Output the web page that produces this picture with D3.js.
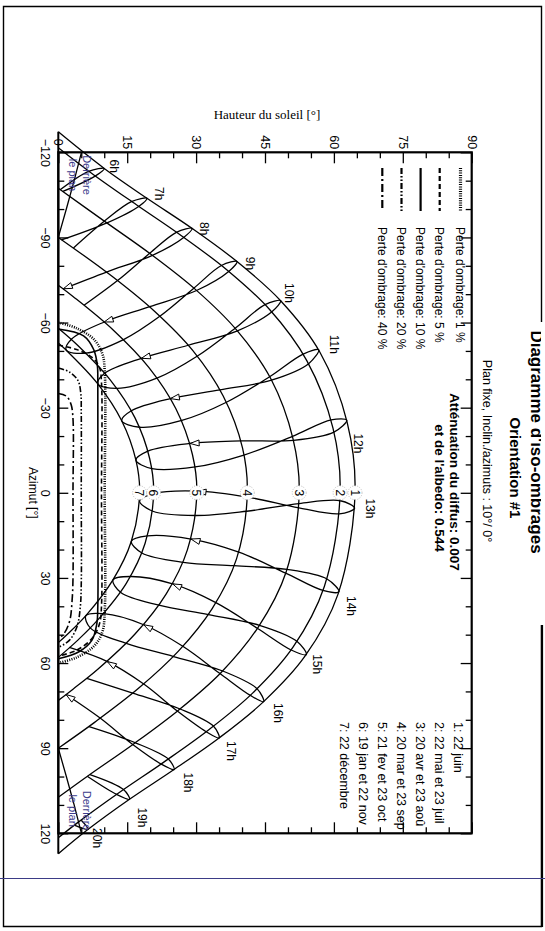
<!DOCTYPE html>
<html><head><meta charset="utf-8">
<script src="https://cdn.jsdelivr.net/npm/d3@7"></script>
<style>
body{margin:0;background:#fff}
svg{display:block}
text{font-family:Arial,"Liberation Sans",sans-serif;fill:#000}
</style>
</head><body>
<svg id="c" width="545" height="931"></svg>
<script>
// ---------- DATA (azimuth [deg], sun height [deg]) ----------
const hours = ["6h","7h","8h","9h","10h","11h","12h","13h","14h","15h","16h","17h","18h","19h","20h"];
const hourLabelPos = [[-115.1,12.3],[-105.4,22.1],[-93.1,31.9],[-80.8,41.8],[-70.4,50.4],[-52.3,60.0],[-17.4,65.3],[5.5,67.9],[39.9,63.7],[60.4,56.5],[77.6,47.8],[91.0,37.6],[102.1,28.2],[114.4,18.3],[121.7,8.4]];

const dateLabels = ["1","2","3","4","5","6","7"];
const dateNoonHeight = [64.6,61.35,52.45,41.15,30.15,20.75,17.7];
const dateLegend = ["1: 22 juin","2: 22 mai et 23 juil","3: 20 avr et 23 aoû","4: 20 mar et 23 sep","5: 21 fev et 23 oct","6: 19 jan et 22 nov","7: 22 décembre"];

// sun paths (date curves), sunrise -> sunset
const path1 = [[-127.2,0],[-114.3,10.0],[-103.8,19.3],[-93.2,29.1],[-81.5,38.9],[-67.7,48.4],[-49.7,56.9],[-24.7,62.9],[0,64.6],[35.7,60.9],[57.6,53.7],[73.6,44.7],[86.4,35.0],[97.5,25.2],[108.0,15.5],[118.6,6.5],[127.2,0]];
const path2 = [[-121.6,0],[-112.2,7.6],[-101.5,17.0],[-90.6,26.8],[-78.7,36.6],[-64.6,46.0],[-46.6,54.1],[-22.8,59.8],[0,61.35],[33.1,57.9],[54.4,51.1],[70.6,42.3],[83.6,32.7],[95.0,22.9],[105.7,13.2],[116.5,4.0],[121.6,0]];
const path3 = [[-107.3,0],[-95.3,10.4],[-83.9,20.3],[-71.6,29.9],[-57.4,38.8],[-40.1,46.3],[-19.0,51.1],[0,52.45],[27.9,49.6],[47.4,43.5],[63.4,35.4],[76.7,26.1],[88.5,16.4],[99.7,6.5],[107.3,0]];
const path4 = [[-90,0],[-76.3,11.7],[-63.9,21.0],[-50.1,29.3],[-34.1,35.9],[-15.8,40.1],[0,41.15],[23.3,38.8],[40.8,33.5],[55.9,26.1],[69.0,17.4],[80.9,7.9],[90,0]];
const path5 = [[-73.15,0],[-69.2,3.2],[-57.3,12.0],[-44.2,19.7],[-29.6,25.6],[-13.5,29.2],[0,30.15],[20.1,28.1],[35.6,23.5],[49.6,16.8],[62.2,8.6],[69.2,3.2],[73.15,0]];
const path6 = [[-58.0,0],[-52.0,4.2],[-39.8,11.3],[-26.4,16.7],[-12.0,19.9],[0,20.75],[17.8,18.9],[31.9,14.8],[44.8,8.6],[52.0,4.2],[58.0,0]];
const path7 = [[-52.8,0],[-50.3,1.7],[-38.4,8.6],[-25.4,13.8],[-11.5,16.9],[0,17.7],[17.1,15.9],[30.7,11.9],[43.3,6.0],[50.3,1.7],[52.8,0]];

// sun position at each legal hour (6h..20h) for the 12 dates of the analemma loops
const aJun = [[-114.3,10.0],[-103.8,19.3],[-93.2,29.1],[-81.5,38.9],[-67.7,48.4],[-50.4,56.7],[-25.6,62.8],[5.4,64.5],[34.9,61.1],[57.0,54.0],[73.6,44.7],[86.4,35.0],[97.5,25.2],[108.0,15.5],[118.6,6.5]];
const aMay = [[-111.7,8.1],[-100.9,17.5],[-90.0,27.3],[-78.0,37.1],[-63.8,46.5],[-45.5,54.5],[-21.4,60.0],[7.4,61.2],[34.4,57.6],[55.4,50.7],[71.4,41.8],[84.2,32.2],[95.6,22.4],[106.3,12.7],[117.1,3.5]];
const aApr = [[-106.2,1.0],[-95.1,10.6],[-83.7,20.5],[-71.3,30.1],[-57.1,39.0],[-39.7,46.4],[-18.5,51.2],[5.3,52.4],[28.3,49.5],[47.8,43.4],[63.7,35.2],[76.9,25.9],[88.7,16.2],[99.9,6.3],null];
const aMar = [null,[-89.1,0.7],[-77.8,10.5],[-65.6,19.9],[-52.0,28.3],[-36.3,35.2],[-18.3,39.8],[1.5,41.2],[20.9,39.3],[38.7,34.3],[54.1,27.1],[67.4,18.6],[79.4,9.1],null,null];
const aFeb = [null,null,[-71.9,1.1],[-60.2,10.0],[-47.4,18.1],[-33.2,24.4],[-17.4,28.7],[-0.6,30.2],[16.3,28.9],[32.1,24.9],[46.5,18.6],[59.5,10.7],[71.1,1.7],null,null];
const aJan = [null,null,null,[-54.2,2.9],[-42.1,10.1],[-28.9,15.9],[-14.7,19.5],[0.3,20.8],[15.2,19.4],[29.5,15.7],[42.6,9.9],[54.5,2.4],null,null,null];
const aDec = [null,null,null,[-50.3,1.7],[-38.4,8.6],[-25.4,13.8],[-11.5,16.9],[2.9,17.7],[17.1,15.9],[30.7,11.9],[43.3,6.0],null,null,null,null];
const aNov = [null,null,null,[-49.2,5.9],[-36.8,12.8],[-23.1,17.7],[-8.5,20.4],[6.5,20.6],[21.2,18.2],[35.1,13.6],[47.7,7.0],null,null,null,null];
const aOct = [null,null,[-66.1,5.6],[-54.0,14.2],[-40.5,21.6],[-25.5,26.9],[-9.1,29.8],[8.0,29.9],[24.5,27.2],[39.6,21.9],[53.1,14.8],[65.4,6.2],null,null,null];
const aSep = [null,[-86.3,3.3],[-74.8,12.9],[-62.2,22.1],[-48.2,30.3],[-31.9,36.6],[-13.3,40.4],[6.5,41.0],[25.7,38.3],[42.9,32.7],[57.7,25.1],[70.6,16.2],[82.4,6.7],null,null];
const aAug = [[-106.8,0.4],[-95.7,10.0],[-84.4,19.9],[-72.1,29.5],[-58.0,38.5],[-40.9,46.0],[-19.9,51.0],[3.8,52.4],[27.0,49.8],[46.7,43.8],[62.8,35.8],[76.2,26.5],[88.1,16.8],[99.3,6.9],null];
const aJul = [[-113.3,6.6],[-102.6,15.9],[-91.8,25.7],[-80.1,35.5],[-66.3,45.0],[-48.9,53.3],[-25.7,59.4],[2.8,61.4],[30.4,58.5],[52.4,52.0],[69.1,43.3],[82.3,33.8],[93.9,24.0],[104.6,14.2],[115.4,5.0]];

// "behind the plane" limits
const behindLeft = [[-90,0],[-100,1.75],[-110,3.45],[-120,5.04]];
const behindRight = [[90,0],[100,1.75],[110,3.45],[120,5.04]];

// iso-shading curves
const isoNames = ["Perte d'ombrage: 1 %","Perte d'ombrage: 5 %","Perte d'ombrage: 10 %","Perte d'ombrage: 20 %","Perte d'ombrage: 40 %"];
const iso1 = [[-60,0],[-58,4],[-54,7.8],[-49,9.6],[-43,10.1],[0,10.1],[42,10.1],[49,9.6],[54,7.8],[58,4],[60,0]];
const iso5 = [[-52,0],[-50.5,4],[-47.5,7.5],[-44,9.0],[-39,9.4],[0,9.4],[40,9.4],[46,9.0],[51,7.5],[55.5,4],[57.5,0]];
const iso10 = [[-57.7,0],[-55.3,5.5],[-50.5,7.7],[-45,8.5],[-40,8.6],[0,8.6],[40,8.6],[46,8.4],[52,7.3],[56,4.5],[58.5,0]];
const iso20 = [[-44,0],[-42.5,2.5],[-39.5,4.3],[-35,4.9],[-28,5.0],[0,5.0],[32,5.0],[40,4.8],[47,4.1],[52,2.4],[54.5,0]];
const iso40 = [[-35,0],[-34,1.8],[-31,2.8],[-26,3.2],[0,3.2],[30,3.2],[38,3.0],[45,2.5],[49.5,1.3],[51.5,0]];

const heightTicks = [0,15,30,45,60,75,90];
const azimuthTicks = [-120,-90,-60,-30,0,30,60,90,120];

// ---------- DRAW ----------
const svg = d3.select("#c");
const xS = d3.scaleLinear().domain([0,90]).range([58.3,471.7]);   // sun height -> horizontal
const yS = d3.scaleLinear().domain([-120,120]).range([152.3,833.3]); // azimuth -> vertical

// page frame (right edge interrupted by the cut title)
const pf = svg.append("g").attr("stroke","#000").attr("fill","none");
pf.append("path").attr("d","M541.5,322 V6.5 H3.5 V926.5 H541.5 V625").attr("stroke-width",1.4);
pf.append("line").attr("x1",542).attr("x2",542).attr("y1",625).attr("y2",927).attr("stroke-width",2.2);
svg.append("line").attr("x1",0).attr("x2",545).attr("y1",878.5).attr("y2",878.5)
  .attr("stroke","#3b3b86").attr("stroke-width",1);

const ln = d3.line().x(d=>xS(d[1])).y(d=>yS(d[0])).curve(d3.curveCatmullRom.alpha(0.5));
const lnClosed = d3.line().x(d=>xS(d[1])).y(d=>yS(d[0])).curve(d3.curveCatmullRomClosed.alpha(0.5));
const lnLin = d3.line().x(d=>xS(d[1])).y(d=>yS(d[0]));

const gMain = svg.append("g");

// horizon line
gMain.append("line").attr("x1",xS(0)).attr("x2",xS(0)).attr("y1",yS(-127.2)).attr("y2",yS(127.2))
  .attr("stroke","#000").attr("stroke-width",2);

// date curves
[path1,path2,path3,path4,path5,path6,path7].forEach(p=>{
  gMain.append("path").attr("d",ln(p)).attr("fill","none").attr("stroke","#000").attr("stroke-width",1.3);
});

// analemmas
const loopSeq = [aJun,aMay,aApr,aMar,aFeb,aJan,aDec,aNov,aOct,aSep,aAug,aJul];
hours.forEach((h,i)=>{
  const pts = loopSeq.map(a=>a[i]);
  const fn = pts.findIndex(p=>p===null);
  if(fn<0){
    gMain.append("path").attr("d",lnClosed(pts)).attr("fill","none").attr("stroke","#000").attr("stroke-width",1.3);
  } else {
    const seq = pts.slice(fn).concat(pts.slice(0,fn));
    let run=[];
    const flush=()=>{ if(run.length>1) gMain.append("path").attr("d",ln(run)).attr("fill","none").attr("stroke","#000").attr("stroke-width",1.3); run=[]; };
    seq.forEach(p=>{ if(p===null) flush(); else run.push(p); });
    flush();
  }
  // small arrow on the 21 Feb point, pointing along the Mar -> Feb direction
  const p = aFeb[i], q = aMar[i];
  if(p && q){
    const px = xS(p[1]), py = yS(p[0]), qx = xS(q[1]), qy = yS(q[0]);
    const L = Math.hypot(px-qx, py-qy), ux = (px-qx)/L, uy = (py-qy)/L;
    const bx = px-9*ux, by = py-9*uy;
    gMain.append("path").attr("d",`M${px},${py}L${bx-3*uy},${by+3*ux}L${bx+3*uy},${by-3*ux}Z`)
      .attr("fill","#fff").attr("stroke","#000").attr("stroke-width",1);
  }
});

// behind-plane limits
[behindLeft,behindRight].forEach(p=>{
  gMain.append("path").attr("d",lnLin(p)).attr("fill","none").attr("stroke","#000").attr("stroke-width",1.3);
});

// iso-shading curves
const isoStyles = [
  {w:2.6,dash:"1,1.3"},
  {w:1.6,dash:"5,3"},
  {w:1.6,dash:null},
  {w:1.6,dash:"6,2,1.5,2,1.5,2"},
  {w:1.6,dash:"8,3,2,3"}
];
[iso1,iso5,iso10,iso20,iso40].forEach((p,i)=>{
  gMain.append("path").attr("d",ln(p)).attr("fill","none").attr("stroke","#000")
   .attr("stroke-width",isoStyles[i].w).attr("stroke-dasharray",isoStyles[i].dash);
});

// date labels (white circles)
dateLabels.forEach((t,i)=>{
  const cx = xS(dateNoonHeight[i]), cy = yS(0);
  gMain.append("circle").attr("cx",cx).attr("cy",cy).attr("r",7).attr("fill","#fff")
    .attr("stroke","#bbb").attr("stroke-width",1).attr("stroke-dasharray","1,1.5");
  gMain.append("text").attr("transform",`translate(${cx},${cy}) rotate(90)`)
    .attr("text-anchor","middle").attr("dy","0.36em").attr("font-size",12).text(t);
});

// hour labels
hours.forEach((h,i)=>{
  const p = hourLabelPos[i];
  gMain.append("text").attr("transform",`translate(${xS(p[1])},${yS(p[0])}) rotate(90)`)
    .attr("text-anchor","middle").attr("dy","0.36em").attr("font-size",12).text(h);
});

// "Derrière le plan" labels
[[-120,-104],[104,120]].forEach(r=>{
  const yc = (yS(r[0])+yS(r[1]))/2;
  gMain.append("text").attr("transform",`translate(87,${yc}) rotate(90)`).attr("text-anchor","middle")
    .attr("dy","0.36em").attr("font-size",11).style("fill","#3c3c8c").text("Derrière");
  gMain.append("text").attr("transform",`translate(73,${yc}) rotate(90)`).attr("text-anchor","middle")
    .attr("dy","0.36em").attr("font-size",11).style("fill","#3c3c8c").text("le plan");
});

// axes (ticks inward)
function styleAxis(sel){ sel.select(".domain").remove(); sel.selectAll("line").attr("stroke","#000").attr("stroke-width",1.3); }
const minorH = d3.range(5,90,5).filter(v=>v%15);
const minorA = d3.range(-110,120,10).filter(v=>v%30);
const axTop = svg.append("g").attr("transform",`translate(0,${yS(-120)})`)
  .call(d3.axisTop(xS).tickValues(heightTicks).tickSize(-11).tickPadding(0));
styleAxis(axTop);
axTop.selectAll("text").attr("y",null).attr("dy","0.36em").attr("text-anchor","middle")
   .attr("transform","translate(0,-10) rotate(90)").attr("font-size",12.5).attr("font-family","Arial");
styleAxis(svg.append("g").attr("transform",`translate(0,${yS(-120)})`)
  .call(d3.axisTop(xS).tickValues(minorH).tickSize(-6).tickFormat("")));
styleAxis(svg.append("g").attr("transform",`translate(0,${yS(120)})`)
  .call(d3.axisBottom(xS).tickValues(heightTicks).tickSize(-11).tickFormat("")));
styleAxis(svg.append("g").attr("transform",`translate(0,${yS(120)})`)
  .call(d3.axisBottom(xS).tickValues(minorH).tickSize(-6).tickFormat("")));

const axLeft = svg.append("g").attr("transform",`translate(${xS(0)},0)`)
  .call(d3.axisLeft(yS).tickValues(azimuthTicks).tickSize(-10).tickPadding(0));
styleAxis(axLeft);
axLeft.selectAll("text").attr("x",null).attr("dy","0.36em").attr("text-anchor","middle")
   .attr("transform","translate(-13,0) rotate(90)").attr("font-size",12.5).attr("font-family","Arial");
styleAxis(svg.append("g").attr("transform",`translate(${xS(0)},0)`)
  .call(d3.axisLeft(yS).tickValues(minorA).tickSize(-6).tickFormat("")));
styleAxis(svg.append("g").attr("transform",`translate(${xS(90)},0)`)
  .call(d3.axisRight(yS).tickValues(azimuthTicks).tickSize(-11).tickFormat("")));
styleAxis(svg.append("g").attr("transform",`translate(${xS(90)},0)`)
  .call(d3.axisRight(yS).tickValues(minorA).tickSize(-6).tickFormat("")));

// frame
svg.append("rect").attr("x",xS(0)).attr("y",yS(-120)).attr("width",xS(90)-xS(0)).attr("height",yS(120)-yS(-120))
  .attr("fill","none").attr("stroke","#000").attr("stroke-width",2.2);

// axis titles
svg.append("text").attr("x",267).attr("y",119).attr("text-anchor","middle")
  .attr("font-size",13).style("font-family","'Liberation Serif','Times New Roman',serif").text("Hauteur du soleil [°]");
svg.append("text").attr("transform",`translate(33,${yS(0)}) rotate(90)`).attr("text-anchor","middle")
  .attr("dy","0.36em").attr("font-size",12).text("Azimut [°]");

// loss legend
const legX = [460.5,439.7,420.6,401.5,382.3];
isoNames.forEach((t,i)=>{
  svg.append("line").attr("x1",legX[i]).attr("x2",legX[i]).attr("y1",168).attr("y2",211)
    .attr("stroke","#000").attr("stroke-width",isoStyles[i].w+0.6).attr("stroke-dasharray",isoStyles[i].dash);
  svg.append("text").attr("transform",`translate(${legX[i]},227) rotate(90)`).attr("dy","0.36em")
    .attr("font-size",12).text(t);
});

// date legend
const dLegX = [458.8,439.7,420.6,401.5,382.3,363.2,344.1];
dateLegend.forEach((t,i)=>{
  svg.append("text").attr("transform",`translate(${dLegX[i]},722) rotate(90)`).attr("dy","0.36em")
    .attr("font-size",12.5).text(t);
});

// title block
svg.append("clipPath").attr("id","pg").append("rect").attr("x",0).attr("y",0).attr("width",541).attr("height",931);
const tb = svg.append("g").attr("clip-path","url(#pg)");
tb.append("text").attr("transform","translate(537,442) rotate(90)").attr("text-anchor","middle").attr("dy","0.36em")
  .attr("font-size",17).attr("font-weight","bold").text("Diagramme d'iso-ombrages");
tb.append("text").attr("transform","translate(515,468) rotate(90)").attr("text-anchor","middle").attr("dy","0.36em")
  .attr("font-size",15).attr("font-weight","bold").text("Orientation #1");
tb.append("text").attr("transform","translate(487,451) rotate(90)").attr("text-anchor","middle").attr("dy","0.36em")
  .attr("font-size",12.5).text("Plan fixe, Inclin./azimuts : 10°/ 0°");
tb.append("text").attr("transform","translate(455,482) rotate(90)").attr("text-anchor","middle").attr("dy","0.36em")
  .attr("font-size",13.5).attr("font-weight","bold").text("Atténuation du diffus: 0.007");
tb.append("text").attr("transform","translate(440,488) rotate(90)").attr("text-anchor","middle").attr("dy","0.36em")
  .attr("font-size",13.5).attr("font-weight","bold").text("et de l'albedo: 0.544");
</script>
</body></html>
